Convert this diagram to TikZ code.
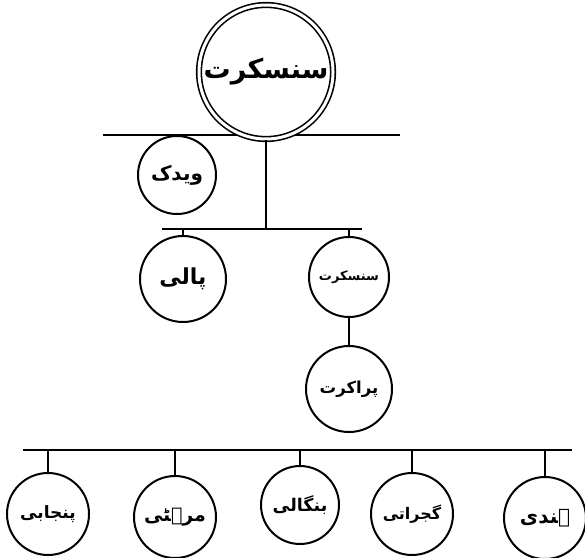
\documentclass[tikz,border=0pt]{standalone}
\usepackage{fontspec}
\newfontfamily\arabicfont[Script=Arabic]{DejaVu Sans}
\TeXXeTstate=1
\begin{document}
\begin{tikzpicture}[x=1pt,y=-1pt,line width=2pt,
  lang/.style={circle, draw, fill=white, inner sep=0pt, minimum size=82pt},
  fs/.style={font=\arabicfont\bfseries\fontsize{#1}{#1}\selectfont},
  bar/.style={line width=2pt}]
\useasboundingbox (0,0) rectangle (585,557);
% bars
\coordinate (b1l) at (103,135);
\coordinate (b1r) at (400,135);
\coordinate (b2l) at (162,229);
\coordinate (b2r) at (362,229);
\coordinate (b3l) at (23,450);
\coordinate (b3r) at (572,450);
\draw[bar] (b1l) -- (b1r);
\draw[bar] (b2l) -- (b2r);
\draw[bar] (b3l) -- (b3r);
% top
\node[lang, minimum size=134pt, line width=1.6pt, double=white, double distance=3pt,
  fs=27] (top) at (266,72) {\beginR سنسکرت\endR};
\node[lang, minimum size=78pt, fs=20] (vedic) at (177,175) {\beginR ویدک\endR};
\node[lang, minimum size=86pt, fs=22] (pali) at (183,279) {\beginR پالی\endR};
\node[lang, minimum size=80pt, fs=13] (sans) at (349,277) {\beginR سنسکرت\endR};
\node[lang, minimum size=86pt, fs=16.5] (prak) at (349,389) {\beginR پراکرت\endR};
\node[lang, fs=17] (panj) at (48,514) {\beginR پنجابی\endR};
\node[lang, fs=19] (mara) at (175,517) {\beginR مرہٹی\endR};
\node[lang, minimum size=78pt, fs=17.5] (beng) at (300,505) {\beginR بنگالی\endR};
\node[lang, fs=16] (guja) at (412,514) {\beginR گجراتی\endR};
\node[lang, fs=20] (hind) at (545,518) {\beginR ہندی\endR};
% connectors
\draw[bar] (top) -- (top |- b2l);
\draw[bar] (pali) -- (pali |- b2l);
\draw[bar] (sans) -- (sans |- b2l);
\draw[bar] (sans) -- (prak);
\foreach \n in {panj,mara,beng,guja,hind}
  \draw[bar] (\n) -- (\n |- b3l);
\end{tikzpicture}
\end{document}
